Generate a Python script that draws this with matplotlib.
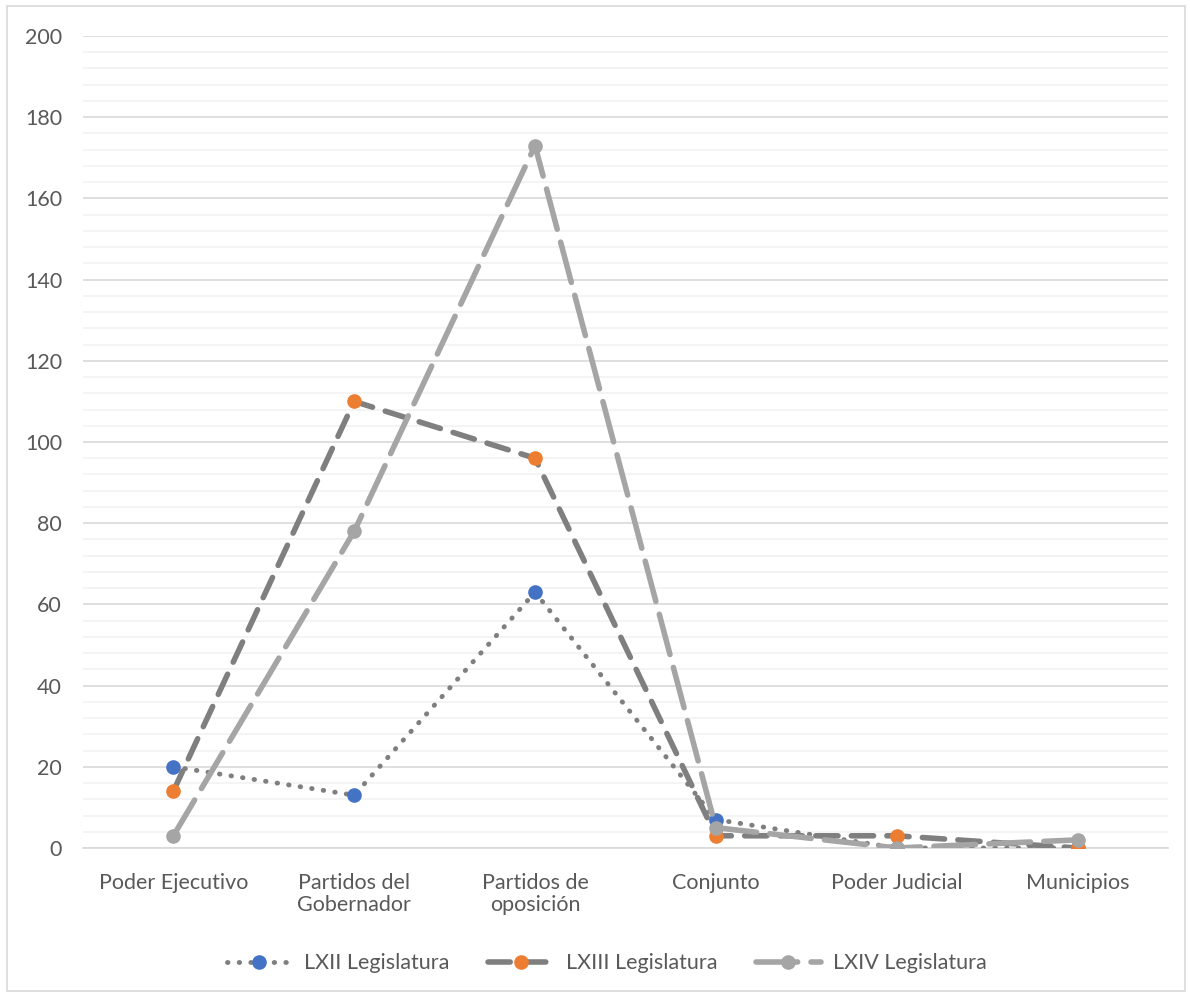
import matplotlib.pyplot as plt
from matplotlib.patches import Rectangle
from matplotlib.ticker import MultipleLocator

plt.rcParams['font.family'] = ['Lato', 'DejaVu Sans']

# categories and series
categories = ["Poder Ejecutivo", "Partidos del\nGobernador", "Partidos de\noposición",
              "Conjunto", "Poder Judicial", "Municipios"]
lxii = [20, 13, 63, 7, 0, 0]
lxiii = [14, 110, 96, 3, 3, 0]
lxiv = [3, 78, 173, 5, 0, 2]

fig = plt.figure(figsize=(11.9, 9.94), dpi=100)
ax = fig.add_axes([0.0697, 0.1469, 0.9118, 0.8169])

# outer chart border
fig.patches.append(Rectangle((0.006, 0.003), 0.99, 0.991, transform=fig.transFigure,
                             fill=False, edgecolor='#d9d9d9', linewidth=1.2))

x = list(range(len(categories)))

ax.plot(x, lxii, color='#7f7f7f', linewidth=3.5, dashes=(0.1, 2.3), dash_capstyle='round',
        marker='o', markersize=9.5, markerfacecolor='#4472c4', markeredgecolor='#4472c4',
        label='LXII Legislatura', zorder=3)
ax.plot(x, lxiii, color='#7f7f7f', linewidth=4, dashes=(4, 2.4), dash_capstyle='round',
        marker='o', markersize=9.5, markerfacecolor='#ed7d31', markeredgecolor='#ed7d31',
        label='LXIII Legislatura', zorder=4)
ax.plot(x, lxiv, color='#a5a5a5', linewidth=4, dashes=(7.5, 2.4), dash_capstyle='round',
        marker='o', markersize=9.5, markerfacecolor='#a5a5a5', markeredgecolor='#a5a5a5',
        label='LXIV Legislatura', zorder=5)

ax.set_xlim(-0.5, len(categories) - 0.5)
ax.set_ylim(0, 200)
ax.yaxis.set_major_locator(MultipleLocator(20))
ax.yaxis.set_minor_locator(MultipleLocator(4))
ax.grid(True, which='major', axis='y', color='#d9d9d9', linewidth=1.2)
ax.grid(True, which='minor', axis='y', color='#f2f2f2', linewidth=1.2)
ax.set_axisbelow(True)

ax.set_xticks(x)
ax.set_xticklabels(categories, fontsize=15.5, color='#595959', linespacing=1.15)
ax.tick_params(axis='y', labelsize=15.5, labelcolor='#595959', length=0, pad=15)
ax.tick_params(axis='x', which='both', length=0, pad=18)
ax.tick_params(axis='y', which='minor', length=0)

for s in ['top', 'right', 'left']:
    ax.spines[s].set_visible(False)
ax.spines['bottom'].set_color('#d9d9d9')
ax.spines['bottom'].set_linewidth(1.2)

fig.legend(loc='center', bbox_to_anchor=(0.51, 0.031), ncol=3, frameon=False,
           fontsize=15.5, labelcolor='#595959', handlelength=3.0, handletextpad=0.6,
           columnspacing=1.8)

fig.savefig('out.png', dpi=100)
